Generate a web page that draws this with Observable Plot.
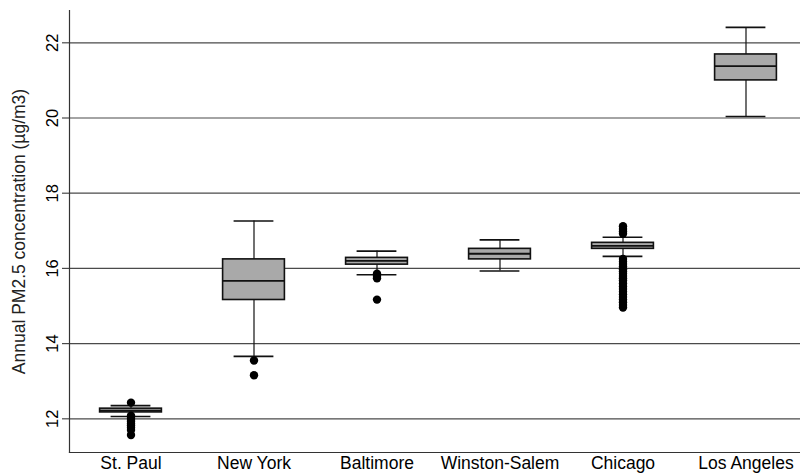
<!DOCTYPE html>
<html>
<head>
<meta charset="utf-8">
<script src="https://cdn.jsdelivr.net/npm/d3@7"></script>
<script src="https://cdn.jsdelivr.net/npm/@observablehq/plot@0.6"></script>
<style>
  html, body { margin: 0; padding: 0; background: #fff; }
  #chart svg { display: block; }
</style>
</head>
<body>
<div id="chart"></div>
<script>
const cities = ["St. Paul", "New York", "Baltimore", "Winston-Salem", "Chicago", "Los Angeles"];
const whiskerLow  = [12.06, 13.66, 15.83, 15.93, 16.32, 20.04];
const q1          = [12.17, 15.16, 16.10, 16.24, 16.52, 21.00];
const medians     = [12.22, 15.67, 16.20, 16.39, 16.60, 21.38];
const q3          = [12.27, 16.24, 16.28, 16.52, 16.68, 21.69];
const whiskerHigh = [12.35, 17.26, 16.46, 16.76, 16.83, 22.41];
const outlierValues = {
  "St. Paul": [12.43, 12.08, 12.02, 11.97, 11.92, 11.87, 11.82, 11.76, 11.70, 11.57],
  "New York": [13.55, 13.16],
  "Baltimore": [15.86, 15.80, 15.74, 15.17],
  "Winston-Salem": [],
  "Chicago": [17.12, 17.05, 16.98, 16.92, 16.25, 16.18, 16.12, 16.05, 15.98, 15.92, 15.86, 15.80,
              15.74, 15.68, 15.60, 15.52, 15.45, 15.38, 15.31, 15.24, 15.17, 15.10, 15.03, 14.96],
  "Los Angeles": []
};
const yTicks = [12, 14, 16, 18, 20, 22];

const boxes = cities.map((c, i) => ({
  city: c, lo: whiskerLow[i], q1: q1[i], med: medians[i], q3: q3[i], hi: whiskerHigh[i]
}));
const outliers = cities.flatMap(c => outlierValues[c].map(v => ({city: c, value: v})));

const band = (807.6 - 68.4) / 6;
const boxInset = (band - 62) / 2;
const capInset = (band - 40) / 2;

const chart = Plot.plot({
  width: 800,
  height: 475,
  marginTop: 10,
  marginBottom: 23,
  marginLeft: 69,
  marginRight: 0,
  style: {fontFamily: "'Liberation Sans', Arial, Helvetica, sans-serif", background: "#fff", color: "#000"},
  x: {domain: cities, range: [68.4, 807.6], padding: 0, axis: null},
  y: {domain: [11.104, 22.859], axis: null},
  marks: [
    Plot.gridY(yTicks, {stroke: "#4a4a4a", strokeOpacity: 1, strokeWidth: 1.2}),
    Plot.axisY(yTicks, {tickSize: 7, tickPadding: 5, tickRotate: -90, fontSize: 16.5, stroke: "#4a4a4a", strokeWidth: 1.2, label: null}),
    Plot.text(["Annual PM2.5 concentration (µg/m3)"], {frameAnchor: "left", textAnchor: "middle", dx: -50, rotate: -90, fontSize: 17.5, fill: "#222"}),
    Plot.axisX({tickSize: 0, tickPadding: 4, fontSize: 17.5, label: null}),
    Plot.frame({anchor: "left", stroke: "#333", strokeWidth: 1.2}),
    Plot.frame({anchor: "bottom", stroke: "#333", strokeWidth: 1.2}),
    Plot.ruleX(boxes, {x: "city", y1: "lo", y2: "q1", stroke: "#111", strokeWidth: 1.2}),
    Plot.ruleX(boxes, {x: "city", y1: "q3", y2: "hi", stroke: "#111", strokeWidth: 1.2}),
    Plot.tickY(boxes, {x: "city", y: "lo", stroke: "#111", strokeWidth: 1.6, insetLeft: capInset, insetRight: capInset}),
    Plot.tickY(boxes, {x: "city", y: "hi", stroke: "#111", strokeWidth: 1.6, insetLeft: capInset, insetRight: capInset}),
    Plot.barY(boxes, {x: "city", y1: "q1", y2: "q3", fill: "#a9a9a9", stroke: "#111", strokeWidth: 1.6, insetLeft: boxInset, insetRight: boxInset}),
    Plot.tickY(boxes, {x: "city", y: "med", stroke: "#111", strokeWidth: 1.8, insetLeft: boxInset, insetRight: boxInset}),
    Plot.dot(outliers, {x: "city", y: "value", r: 4.2, fill: "#000", stroke: "none"})
  ]
});
document.getElementById("chart").appendChild(chart);
</script>
</body>
</html>
